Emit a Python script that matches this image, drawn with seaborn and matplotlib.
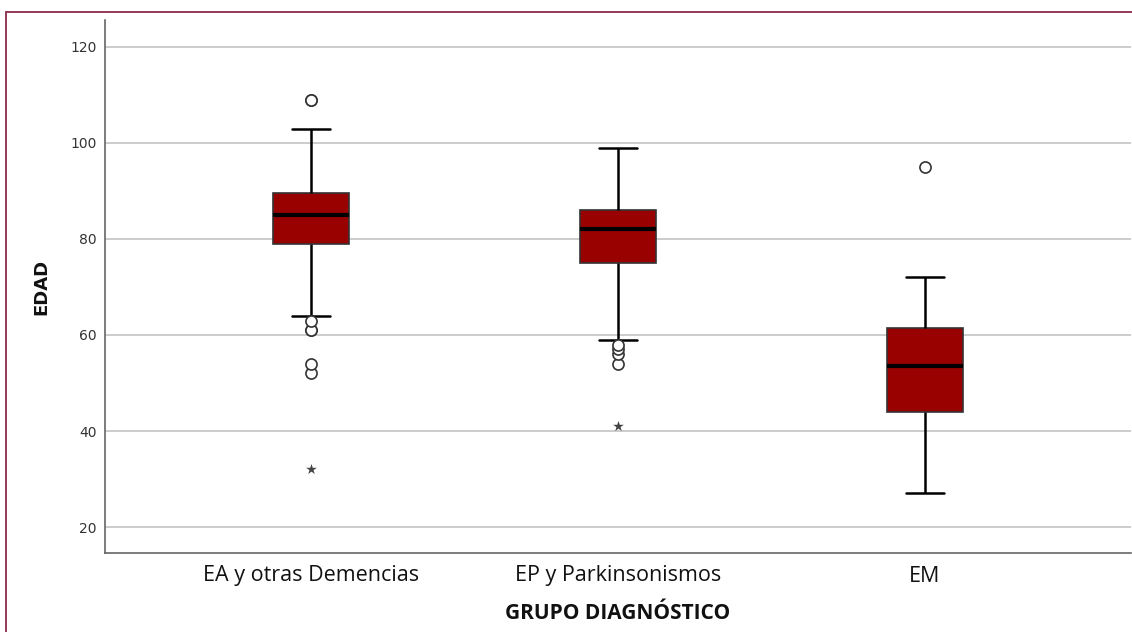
import matplotlib
matplotlib.use("Agg")
import matplotlib.pyplot as plt
import seaborn as sns
import pandas as pd
from matplotlib.patches import Rectangle

# ---- data ----
categories = ["EA y otras Demencias", "EP y Parkinsonismos", "EM"]

edad_ea = [32, 52, 54, 61, 61, 63, 64, 79, 79, 79, 79, 79,
           85, 85, 85, 85, 85, 85, 85, 85, 85,
           89.5, 89.5, 89.5, 89.5, 89.5, 89.5, 89.5, 89.5,
           103, 103, 109, 109]
edad_ep = [41, 54, 56, 57, 58, 59, 75, 75, 75, 75, 75, 75,
           82, 82, 82, 82, 82, 82, 82, 82, 82,
           86, 86, 86, 86, 86, 86, 86, 86, 86, 86, 86, 99]
edad_em = [27, 44, 44, 53.5, 53.5, 53.5, 61.5, 72, 95]

# outliers (circles) and extreme values (stars)
out_cat = ["EA y otras Demencias"] * 7 + ["EP y Parkinsonismos"] * 4 + ["EM"]
out_val = [52, 54, 61, 61, 63, 109, 109, 54, 56, 57, 58, 95]
ext_cat = ["EA y otras Demencias", "EP y Parkinsonismos"]
ext_val = [32, 41]

y_ticks = [20, 40, 60, 80, 100, 120]

df = pd.DataFrame({
    "grupo": [categories[0]] * len(edad_ea) + [categories[1]] * len(edad_ep) + [categories[2]] * len(edad_em),
    "edad": edad_ea + edad_ep + edad_em,
})
df_out = pd.DataFrame({"grupo": out_cat, "edad": out_val})
df_ext = pd.DataFrame({"grupo": ext_cat, "edad": ext_val})

sns.set_style("white")
plt.rcParams["font.family"] = ["DejaVu Sans"]

fig = plt.figure(figsize=(11.32, 6.32), dpi=100)
ax = fig.add_axes([105 / 1132, 1 - 553 / 632, 1026 / 1132, 533 / 632])

sns.boxplot(data=df, x="grupo", y="edad", order=categories, ax=ax,
            color="#990000", width=0.25, showfliers=False, whis=1.5,
            linecolor="#1a1a1a", linewidth=1.2,
            boxprops=dict(facecolor="#990000", edgecolor="#333333", linewidth=1.2),
            medianprops=dict(color="black", linewidth=3),
            whiskerprops=dict(color="black", linewidth=1.8),
            capprops=dict(color="black", linewidth=1.8))

sns.stripplot(data=df_out, x="grupo", y="edad", order=categories, ax=ax,
              jitter=False, marker="o", size=8, color="white",
              edgecolor="#333333", linewidth=1.2, zorder=5)
sns.stripplot(data=df_ext, x="grupo", y="edad", order=categories, ax=ax,
              jitter=False, marker="*", size=8, color="#444444",
              edgecolor="#444444", linewidth=0, zorder=5)

ax.set_xlim(-0.671, 2.671)
ax.set_ylim(14.6, 125.6)
ax.set_yticks(y_ticks)
ax.set_yticklabels([str(t) for t in y_ticks])
ax.yaxis.grid(True, color="#c4c4c4", linewidth=1.2)
ax.xaxis.grid(False)
ax.set_axisbelow(True)

for side in ["top", "right"]:
    ax.spines[side].set_visible(False)
for side in ["left", "bottom"]:
    ax.spines[side].set_color("#666666")
    ax.spines[side].set_linewidth(1.2)

ax.tick_params(axis="y", length=0, pad=6, labelsize=10, labelcolor="#333333")
ax.tick_params(axis="x", length=0, pad=9, labelsize=15.5, labelcolor="#111111")
for lbl in ax.get_xticklabels():
    lbl.set_fontfamily("Open Sans")

ax.set_xlabel("GRUPO DIAGNÓSTICO", fontsize=15, fontweight="bold",
              fontfamily="Open Sans", labelpad=12, color="#111111")
ax.set_ylabel("EDAD", fontsize=13, fontweight="bold", labelpad=14, color="#111111")

# maroon frame (visible on top and left edges)
fig.patches.append(Rectangle((6 / 1132, -0.05), 1.1, 1 - 12 / 632 + 0.05,
                             transform=fig.transFigure, fill=False,
                             edgecolor="#8b2a4a", linewidth=1.3, zorder=0))

fig.savefig("out.png", dpi=100)
